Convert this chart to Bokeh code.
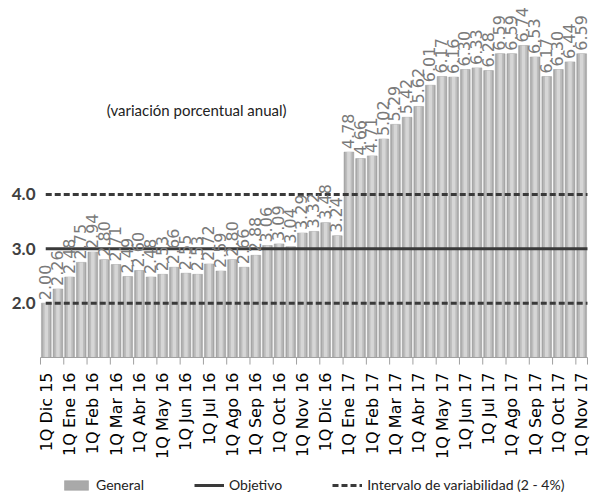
import math
from bokeh.plotting import figure
from bokeh.models import (Range1d, Legend, LegendItem, Label, ColumnDataSource)
from bokeh.core.properties import value
from bokeh.embed import file_html
from bokeh.resources import INLINE

# ---- data -------------------------------------------------------------
periodos = [
    "1Q Dic 15", "2Q Dic 15", "1Q Ene 16", "2Q Ene 16", "1Q Feb 16", "2Q Feb 16",
    "1Q Mar 16", "2Q Mar 16", "1Q Abr 16", "2Q Abr 16", "1Q May 16", "2Q May 16",
    "1Q Jun 16", "2Q Jun 16", "1Q Jul 16", "2Q Jul 16", "1Q Ago 16", "2Q Ago 16",
    "1Q Sep 16", "2Q Sep 16", "1Q Oct 16", "2Q Oct 16", "1Q Nov 16", "2Q Nov 16",
    "1Q Dic 16", "2Q Dic 16", "1Q Ene 17", "2Q Ene 17", "1Q Feb 17", "2Q Feb 17",
    "1Q Mar 17", "2Q Mar 17", "1Q Abr 17", "2Q Abr 17", "1Q May 17", "2Q May 17",
    "1Q Jun 17", "2Q Jun 17", "1Q Jul 17", "2Q Jul 17", "1Q Ago 17", "2Q Ago 17",
    "1Q Sep 17", "2Q Sep 17", "1Q Oct 17", "2Q Oct 17", "1Q Nov 17",
]
general = [
    2.00, 2.26, 2.48, 2.75, 2.94, 2.80, 2.71, 2.49, 2.60, 2.48, 2.53, 2.66,
    2.55, 2.53, 2.72, 2.59, 2.80, 2.66, 2.88, 3.06, 3.09, 3.04, 3.29, 3.32,
    3.48, 3.24, 4.78, 4.66, 4.71, 5.02, 5.29, 5.42, 5.62, 6.01, 6.17, 6.16,
    6.30, 6.33, 6.28, 6.59, 6.59, 6.74, 6.53, 6.17, 6.30, 6.44, 6.59,
]
objetivo = 3.0
intervalo_inf = 2.0
intervalo_sup = 4.0
y_ticks = [2.0, 3.0, 4.0]
y_base = 1.0

n = len(general)
idx = list(range(n))
etiquetas = [f"{v:.2f}" for v in general]
src = ColumnDataSource(dict(x=idx, top=general, lab=etiquetas))

lab_x = idx[::2]
lab_txt = [periodos[i] for i in lab_x]
tick_x = [i - 0.5 for i in lab_x] + [n - 0.5]

NARROW = "Lato"

# ---- figure -----------------------------------------------------------
# one frame covering the whole canvas; the category axis is drawn at y_base
p = figure(frame_width=593, frame_height=493, output_backend="svg", toolbar_location=None,
           x_range=Range1d(-3.937, 47.017), y_range=Range1d(-1.503, 7.57),
           x_axis_location=None, y_axis_location=None,
           min_border_left=0, min_border_right=0, min_border_top=0,
           min_border_bottom=0)
p.outline_line_color = None
p.grid.grid_line_color = None
p.background_fill_color = "white"
p.border_fill_color = "white"

# bars (cylinder-like shading)
bars = p.vbar(x="x", top="top", bottom=y_base, width=0.84, source=src,
              fill_color="#a9a9a9", line_color="#9a9a9a", line_width=0.5)
p.vbar(x="x", top="top", bottom=y_base, width=0.6, source=src,
       fill_color="#bdbdbd", line_color=None)
p.vbar(x="x", top="top", bottom=y_base, width=0.3, source=src,
       fill_color="#d6d6d6", line_color=None)

# reference lines
x0, x1 = -0.05, n - 0.5
r_obj = p.segment(x0=[x0], y0=[objetivo], x1=[x1], y1=[objetivo],
                  line_color="#3a3a3a", line_width=3)
r_int = p.segment(x0=[x0, x0], y0=[intervalo_inf, intervalo_sup],
                  x1=[x1, x1], y1=[intervalo_inf, intervalo_sup],
                  line_color="#3a3a3a", line_width=3, line_dash="6 3")

# data labels
p.text(x="x", y="top", text="lab", source=src, angle=math.pi / 2,
       text_align="left", text_baseline="middle", y_offset=-3, x_offset=-1,
       text_font=value("DejaVu Sans"), text_font_size="16px",
       text_color="#7a7a7a")

# category axis: line, ticks between pairs of periods, rotated labels
p.segment(x0=[-0.5], y0=[y_base], x1=[n - 0.5], y1=[y_base],
          line_color="#a0a0a0", line_width=1)
p.segment(x0=tick_x, y0=[y_base] * len(tick_x), x1=tick_x,
          y1=[y_base - 0.13] * len(tick_x), line_color="#a0a0a0", line_width=1)
p.text(x=lab_x, y=[y_base] * len(lab_x), text=lab_txt, angle=math.pi / 2,
       text_align="right", text_baseline="middle", y_offset=15,
       text_font=value("DejaVu Sans"), text_font_size="16px",
       text_color="#000000")

# value labels on the left
p.text(x=[-0.93] * len(y_ticks), y=y_ticks, text=[f"{t:.1f}" for t in y_ticks],
       text_align="right", text_baseline="middle",
       text_font=value(NARROW), text_font_style="bold", text_font_size="17px",
       text_color="#404040")

# subtitle
p.add_layout(Label(x=5.2, y=5.56, text="(variación porcentual anual)",
                   text_font=NARROW, text_font_size="15px",
                   text_color="#222222", text_baseline="middle"))

# legend
legend = Legend(items=[
    LegendItem(label="General", renderers=[bars]),
    LegendItem(label="Objetivo", renderers=[r_obj]),
    LegendItem(label="Intervalo de variabilidad (2 - 4%)", renderers=[r_int]),
], orientation="horizontal", location=(61, 0), spacing=50,
    glyph_width=30, glyph_height=12, label_standoff=5,
    label_text_font=NARROW, label_text_font_size="14px",
    label_text_color="#222222", border_line_color=None,
    background_fill_alpha=0, padding=2, margin=0)
p.add_layout(legend, "center")

open("out.html", "w").write(file_html(p, INLINE))
